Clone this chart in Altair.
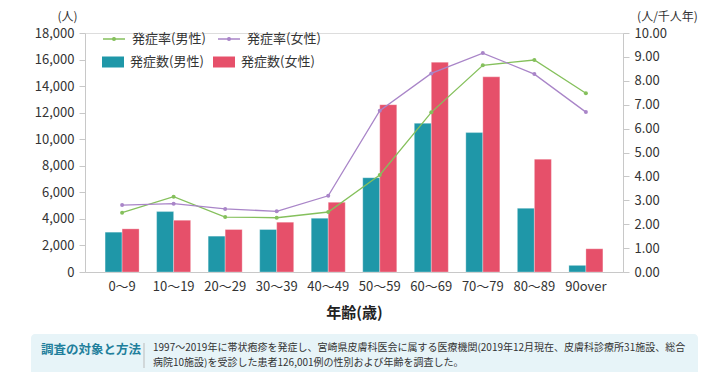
import altair as alt
import pandas as pd

FONT = "Noto Sans CJK JP"

ages = ["0～9", "10～19", "20～29", "30～39", "40～49",
        "50～59", "60～69", "70～79", "80～89", "90over"]
male_count = [3000, 4550, 2700, 3200, 4050, 7100, 11200, 10500, 4800, 500]
female_count = [3250, 3900, 3200, 3750, 5250, 12600, 15800, 14700, 8500, 1750]
male_rate = [2.48, 3.15, 2.30, 2.27, 2.51, 4.06, 6.68, 8.65, 8.87, 7.48]
female_rate = [2.80, 2.86, 2.64, 2.54, 3.19, 6.75, 8.31, 9.16, 8.28, 6.69]

bar_series = ["発症数(男性)", "発症数(女性)"]
line_series = ["発症率(男性)", "発症率(女性)"]
bar_colors = ["#1f97a8", "#e6506a"]
line_colors = ["#85c05c", "#a985c8"]

left_ticks = list(range(0, 18001, 2000))
right_ticks = list(range(0, 11, 1))

note_label = "調査の対象と方法"
note_lines = [
    "1997～2019年に帯状疱疹を発症し、宮崎県皮膚科医会に属する医療機関(2019年12月現在、皮膚科診療所31施設、総合",
    "病院10施設)を受診した患者126,001例の性別および年齢を調査した。",
]

bars_df = pd.DataFrame({
    "age": ages * 2,
    "series": [bar_series[0]] * len(ages) + [bar_series[1]] * len(ages),
    "count": male_count + female_count,
})
lines_df = pd.DataFrame({
    "age": ages * 2,
    "series": [line_series[0]] * len(ages) + [line_series[1]] * len(ages),
    "rate": male_rate + female_rate,
})

x_axis = alt.Axis(
    title="年齢(歳)", labelAngle=0, ticks=False, domainColor="#c8c8c8",
    labelFontSize=13, labelColor="#333333", labelPadding=8, labelFont=FONT,
    titleFont=FONT, titleFontSize=15, titleFontWeight="bold", titleColor="#222222",
    titlePadding=12,
)
x_enc = alt.X("age:N", sort=ages, axis=x_axis,
              scale=alt.Scale(paddingInner=0.34, paddingOuter=0.39))

bars = alt.Chart(bars_df).mark_bar(stroke="#ffffff", strokeWidth=0.6, strokeOpacity=0.5).encode(
    x=x_enc,
    xOffset=alt.XOffset("series:N", sort=bar_series, scale=alt.Scale(paddingInner=0, paddingOuter=0)),
    y=alt.Y("count:Q", scale=alt.Scale(domain=[0, 18000]),
            axis=alt.Axis(orient="left", values=left_ticks, format=",.0f", grid=False,
                          domainColor="#c8c8c8", tickColor="#c8c8c8", tickSize=6,
                          labelFontSize=13, labelColor="#333333", labelPadding=5, labelFont=FONT,
                          title="(人)", titleAngle=0, titleX=-18, titleY=-17,
                          titleAlign="center", titleBaseline="middle", titleFont=FONT,
                          titleFontSize=12, titleFontWeight="normal", titleColor="#333333")),
    fill=alt.Fill("series:N", sort=bar_series,
                  scale=alt.Scale(domain=bar_series, range=bar_colors),
                  legend=alt.Legend(orient="none", legendX=17, legendY=18, columns=2,
                                    direction="horizontal", title=None, padding=0,
                                    symbolType="M-1,-0.5H1V0.5H-1Z", symbolSize=484,
                                    symbolStrokeWidth=0, labelFont=FONT, labelFontSize=13,
                                    labelColor="#333333", labelOffset=6, columnPadding=9)),
)

y_rate = alt.Y("rate:Q", scale=alt.Scale(domain=[0, 10]),
               axis=alt.Axis(orient="right", values=right_ticks, format=".2f", grid=False,
                             domainColor="#c8c8c8", tickColor="#c8c8c8", tickSize=6,
                             labelFontSize=13, labelColor="#333333", labelPadding=5, labelFont=FONT,
                             title="(人/千人年)", titleAngle=0, titleX=44, titleY=-17,
                             titleAlign="center", titleBaseline="middle", titleFont=FONT,
                             titleFontSize=12, titleFontWeight="normal", titleColor="#333333"))
color_enc = alt.Color("series:N", sort=line_series,
                      scale=alt.Scale(domain=line_series, range=line_colors),
                      legend=alt.Legend(orient="none", legendX=17, legendY=-6, columns=2,
                                        direction="horizontal", title=None, padding=0,
                                        symbolType="M-1,0H1M-0.13,0A0.13,0.13,0,1,0,0.13,0A0.13,0.13,0,1,0,-0.13,0Z",
                                        symbolSize=484, symbolStrokeWidth=1.3,
                                        labelFont=FONT, labelFontSize=13, labelColor="#333333",
                                        labelOffset=6, columnPadding=9))

lines = alt.Chart(lines_df).mark_line(strokeWidth=1.3).encode(x=x_enc, y=y_rate, color=color_enc)
points = alt.Chart(lines_df).mark_circle(size=16, opacity=1).encode(x=x_enc, y=y_rate, color=color_enc)

rate_layer = alt.layer(lines, points)

one = pd.DataFrame({"k": [0]})
box = alt.Chart(one).mark_rect(fill="#e7f4f8", cornerRadius=4).encode(
    x=alt.value(-54), x2=alt.value(613), y=alt.value(301), y2=alt.value(344))
divider = alt.Chart(one).mark_rule(color="#bbbbbb", strokeWidth=1).encode(
    x=alt.value(59), y=alt.value(310), y2=alt.value(335))
label = alt.Chart(one).mark_text(text=note_label, align="left", baseline="middle", font=FONT,
                                 fontSize=12.5, fontWeight="bold", color="#1f7f9c").encode(
    x=alt.value(-44), y=alt.value(317))
note1 = alt.Chart(one).mark_text(text=note_lines[0], align="left", baseline="middle", font=FONT,
                                 fontSize=10, color="#333333").encode(
    x=alt.value(68), y=alt.value(315))
note2 = alt.Chart(one).mark_text(text=note_lines[1], align="left", baseline="middle", font=FONT,
                                 fontSize=10, color="#333333").encode(
    x=alt.value(68), y=alt.value(330))

chart = alt.layer(bars, rate_layer, box, divider, label, note1, note2).resolve_scale(
    y="independent"
).properties(
    width=538, height=239,
    autosize=alt.AutoSizeParams(type="none"),
    padding={"left": 77, "top": 25, "right": 89, "bottom": 100},
).configure_view(stroke=None).configure(font=FONT)

chart.save("out.html", embed_options={"renderer": "svg", "actions": False})
